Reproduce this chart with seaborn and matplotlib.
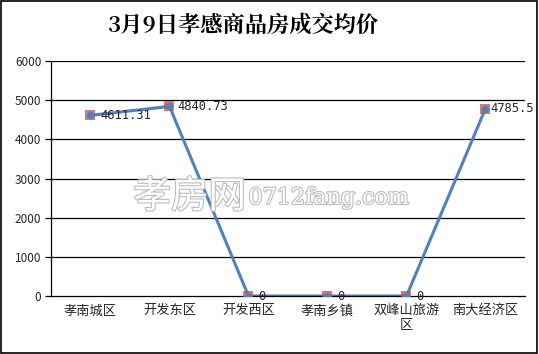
import matplotlib
matplotlib.use("Agg")
import matplotlib.pyplot as plt
import matplotlib.patheffects as pe
import seaborn as sns
import pandas as pd

categories = ["孝南城区", "开发东区", "开发西区", "孝南乡镇", "双峰山旅游\n区", "南大经济区"]
prices = [4611.31, 4840.73, 0, 0, 0, 4785.5]
value_labels = ["4611.31", "4840.73", "0", "0", "0", "4785.5"]
y_ticks = [0, 1000, 2000, 3000, 4000, 5000, 6000]
title = "3月9日孝感商品房成交均价"

sns.set_style("white")
plt.rcParams['font.family'] = ['Noto Sans CJK SC', 'DejaVu Sans']

df = pd.DataFrame({"x": list(range(len(categories))), "price": prices})

fig = plt.figure(figsize=(5.39, 3.54), dpi=100)
ax = fig.add_axes([0.0946, 0.1638, 0.8794, 0.6639])

for y in y_ticks[1:]:
    ax.axhline(y, color="black", lw=0.9, zorder=0)

# watermark (outlined text)
wm_fx = [pe.withStroke(linewidth=1.6, foreground="#bdbdbd")]
fig.text(0.352, 0.443, "孝房网", ha="center", va="center", fontsize=27, color="white",
         path_effects=wm_fx, zorder=1.5)
fig.text(0.61, 0.441, "0712fang.com", ha="center", va="center", fontsize=16, color="white",
         family=["DejaVu Serif"], path_effects=wm_fx, zorder=1.5)

sns.lineplot(data=df, x="x", y="price", ax=ax, color="#4F81BD", lw=2.2, zorder=2)
ax.scatter(df["x"], df["price"], marker="s", s=62, color="#C0504D", alpha=0.75, zorder=3, linewidths=0)
ax.scatter(df["x"], df["price"], marker="o", s=28, color="#4F81BD", zorder=4, linewidths=0)

label_dx = [7, 6, 7, 7, 7, 3.5]
for xi, yi, lab, dx in zip(df["x"], df["price"], value_labels, label_dx):
    ax.annotate(lab, (xi, yi), xytext=(dx, 0), textcoords="offset points",
                va="center", ha="left", fontsize=8.7, family=["DejaVu Sans Mono"], zorder=5)

ax.set_xlim(-0.5, len(categories) - 0.5)
ax.set_ylim(0, 6000)
ax.set_yticks(y_ticks)
ax.set_yticklabels([str(v) for v in y_ticks], fontsize=8.5)
ax.set_xticks(range(len(categories)))
ax.set_xticklabels(categories, fontsize=9.5, linespacing=1.2)
ax.set_xticks([i + 0.5 for i in range(-1, len(categories))], minor=True)
ax.tick_params(axis="x", which="major", length=0, pad=6)
ax.tick_params(axis="x", which="minor", length=4, width=0.9, color="black", direction="out")
ax.tick_params(axis="y", length=4, width=0.9, color="black", direction="out", pad=3, left=True)
ax.set_xlabel("")
ax.set_ylabel("")
for s in ["top", "right"]:
    ax.spines[s].set_visible(False)
for s in ["left", "bottom"]:
    ax.spines[s].set_color("black")
    ax.spines[s].set_linewidth(0.9)

fig.text(0.45, 0.929, title, ha="center", va="center", fontsize=16, fontweight="bold", color="black",
         family=["Noto Serif CJK SC", "Noto Sans CJK SC", "DejaVu Sans"])

border = plt.Rectangle((0.002, 0.003), 0.995, 0.994, transform=fig.transFigure, fill=False,
                       edgecolor="black", lw=1.2)
fig.patches.append(border)

fig.savefig("out.png", dpi=100)
